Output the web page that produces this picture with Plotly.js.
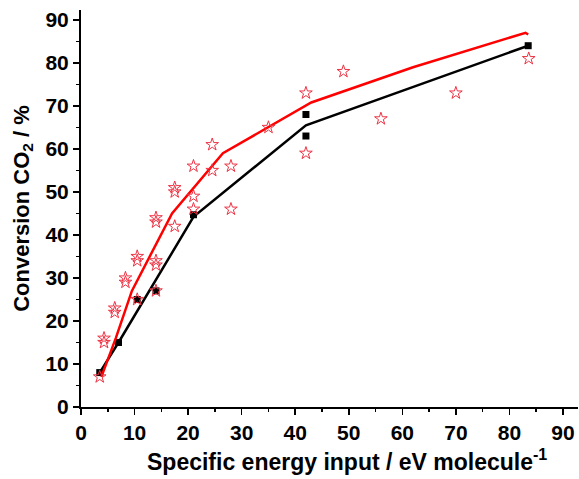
<!DOCTYPE html>
<html><head><meta charset="utf-8">
<script src="https://cdn.plot.ly/plotly-3.0.1.min.js"></script>
<style>html,body{margin:0;padding:0;background:#fff}#chart{width:579px;height:479px}</style>
</head><body><div id="chart"></div>
<script>
// Measured (black squares)
var measX = [3.5, 7, 10.5, 14, 21, 42, 42, 83.5];
var measY = [8, 15, 25, 27, 44.7, 68, 63, 84];
// Model (red open stars)
var modelX = [3.5, 4.3, 4.3, 6.3, 6.3, 8.3, 8.3, 10.5, 10.5, 10.5, 14, 14, 14, 14, 14, 17.5, 17.5, 17.5, 21, 21, 21, 24.5, 24.5, 28, 28, 35, 42, 42, 49, 56, 70, 83.6];
var modelY = [7, 15, 16, 22, 23, 29, 30, 34, 35, 25, 33, 34, 27, 43, 44, 42, 50, 51, 56, 49, 46, 61, 55, 56, 46, 65, 73, 59, 78, 67, 73, 81];
// Black line
var blackX = [3.5, 7, 21, 42, 83.5];
var blackY = [8, 15, 44.2, 65.5, 84];
// Red line
var redX = [3.8, 6.5, 9.5, 17, 26.5, 43, 62, 83, 83.5];
var redY = [7, 16, 27, 45, 59, 70.8, 79, 87, 86.6];

var tickVals = [0, 10, 20, 30, 40, 50, 60, 70, 80, 90];
var tickText = ['0', '10', '20', '30', '40', '50', '60', '70', '80', '90'];
var xTitle = 'Specific energy input / eV molecule<sup>-1</sup>';
var yTitle = 'Conversion CO<sub>2</sub> / %';

var traces = [
  {x: blackX, y: blackY, mode: 'lines', line: {color: '#000000', width: 2.5}, showlegend: false},
  {x: measX, y: measY, mode: 'markers', marker: {symbol: 'square', size: 7, color: '#000000'}, showlegend: false},
  {x: redX, y: redY, mode: 'lines', line: {color: '#ff0000', width: 2.5}, showlegend: false},
  {x: modelX, y: modelY, mode: 'markers', marker: {symbol: 'star-open', size: 9.5, color: '#ee3344', line: {width: 1, color: '#ee3344'}}, showlegend: false}
];

var fam = 'Liberation Sans, Arial, sans-serif';
function bold(a) { return a.map(function (t) { return '<b>' + t + '</b>'; }); }
var layout = {
  width: 579, height: 479,
  margin: {l: 81, r: 1, t: 10, b: 72},
  paper_bgcolor: '#fff', plot_bgcolor: '#fff',
  font: {family: fam, size: 20, color: '#000'},
  xaxis: {
    range: [0, 92.8], tickvals: tickVals, ticktext: bold(tickText),
    ticks: 'outside', ticklen: 6, tickwidth: 1.5, tickcolor: '#000',
    minor: {dtick: 5, tick0: 0, ticks: 'outside', ticklen: 3, tickwidth: 1.5, tickcolor: '#000'},
    showline: true, linecolor: '#000', linewidth: 2, showgrid: false, zeroline: false,
    tickfont: {family: fam, size: 21, color: '#000'}
  },
  yaxis: {
    range: [0, 92.3], tickvals: tickVals, ticktext: bold(tickText),
    ticks: 'outside', ticklen: 6, tickwidth: 1.5, tickcolor: '#000',
    minor: {dtick: 5, tick0: 0, ticks: 'outside', ticklen: 3, tickwidth: 1.5, tickcolor: '#000'},
    showline: true, linecolor: '#000', linewidth: 2, showgrid: false, zeroline: false,
    tickfont: {family: fam, size: 21, color: '#000'},
    title: {text: '<b>' + yTitle + '</b>', font: {family: fam, size: 22, color: '#000'}, standoff: 10}
  },
  annotations: [{
    xref: 'paper', yref: 'paper', x: 0.535, y: -0.133, xanchor: 'center', yanchor: 'middle',
    text: '<b>' + xTitle + '</b>', showarrow: false, font: {family: fam, size: 23, color: '#000'}
  }]
};
Plotly.newPlot('chart', traces, layout, {staticPlot: true});
</script></body></html>
